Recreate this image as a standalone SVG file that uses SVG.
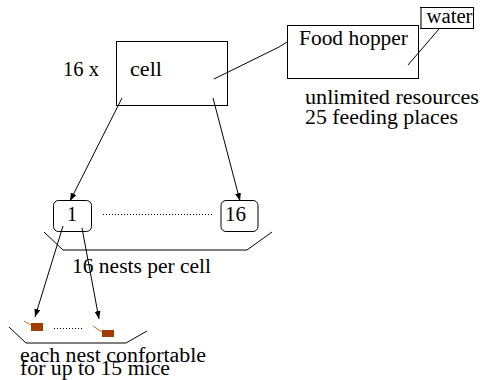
<svg xmlns="http://www.w3.org/2000/svg" width="483" height="380" viewBox="0 0 483 380">
<defs>
<style>
text{font-family:"Liberation Serif","Times New Roman","DejaVu Serif",serif;font-size:20px;fill:#000}
.box{fill:none;stroke:#000;stroke-width:1}
.ln{fill:none;stroke:#000;stroke-width:1}
.dot{fill:none;stroke:#000;stroke-width:1;stroke-dasharray:1 2}
.mouse{fill:#a33c00}
.tail{stroke:#d0692a;stroke-width:1}
</style>
<marker id="ah" markerUnits="userSpaceOnUse" markerWidth="9" markerHeight="7" refX="8" refY="3" orient="auto">
<path d="M0,0 L8,3 L0,6 z" fill="#000"/>
</marker>
</defs>
<rect width="483" height="380" fill="#fff"/>

<g id="connectors">
<polyline class="ln" points="214,79 279,47 287,42"/>
<line class="ln" x1="408" y1="65" x2="439" y2="29"/>
<line class="ln" x1="122" y1="98" x2="70" y2="201" marker-end="url(#ah)"/>
<line class="ln" x1="213" y1="98" x2="240" y2="201" marker-end="url(#ah)"/>
<line class="ln" x1="63" y1="226" x2="35" y2="317" marker-end="url(#ah)"/>
<line class="ln" x1="82" y1="228" x2="99" y2="319" marker-end="url(#ah)"/>
</g>

<g id="cell">
<text x="63" y="76" textLength="36" lengthAdjust="spacingAndGlyphs">16 x</text>
<rect class="box" x="116.5" y="41.5" width="111" height="64"/>
<text x="130" y="76" textLength="32" lengthAdjust="spacingAndGlyphs">cell</text>
</g>

<g id="food-hopper">
<rect class="box" x="287.5" y="25.5" width="131" height="53"/>
<text x="299" y="45" textLength="109" lengthAdjust="spacingAndGlyphs">Food hopper</text>
</g>

<g id="water">
<rect x="420.5" y="7.5" width="53" height="21" fill="#fff" stroke="#000"/>
<line x1="421" y1="8" x2="421" y2="28" stroke="#777" stroke-width="2"/>
<text x="426.5" y="22.5" textLength="46" lengthAdjust="spacingAndGlyphs">water</text>
</g>

<g id="resources">
<text x="305" y="104" font-size="19" textLength="174" lengthAdjust="spacingAndGlyphs">unlimited resources</text>
<text x="305" y="124" font-size="19" textLength="153" lengthAdjust="spacingAndGlyphs">25 feeding places</text>
</g>

<g id="nest-1">
<rect class="box" x="53.5" y="200.5" width="38" height="31" rx="5"/>
<text x="67" y="221" textLength="10" lengthAdjust="spacingAndGlyphs">1</text>
</g>

<g id="nest-16">
<rect class="box" x="221" y="200.5" width="37" height="31" rx="5"/>
<text x="225" y="221" textLength="21" lengthAdjust="spacingAndGlyphs">16</text>
</g>

<g id="nests-tray">
<line class="dot" x1="103" y1="214.5" x2="212" y2="214.5"/>
<polyline class="ln" points="44,232 63,250 247,250 272,232"/>
<text x="72" y="273" textLength="139" lengthAdjust="spacingAndGlyphs">16 nests per cell</text>
</g>

<g id="mice">
<line class="tail" x1="24" y1="321" x2="31" y2="325"/>
<rect class="mouse" x="31" y="323" width="12" height="8"/>
<line class="tail" x1="93" y1="326" x2="102" y2="332"/>
<rect class="mouse" x="102" y="330" width="12" height="7"/>
<line class="dot" x1="54" y1="328.5" x2="82" y2="328.5" stroke-dasharray="1 4"/>
<polyline class="ln" points="9,327 26,343 126,343 147,331"/>
<text x="20" y="362" font-size="19" textLength="186" lengthAdjust="spacingAndGlyphs">each nest confortable</text>
<text x="20" y="375" font-size="19" textLength="150" lengthAdjust="spacingAndGlyphs">for up to 15 mice</text>
</g>
</svg>
